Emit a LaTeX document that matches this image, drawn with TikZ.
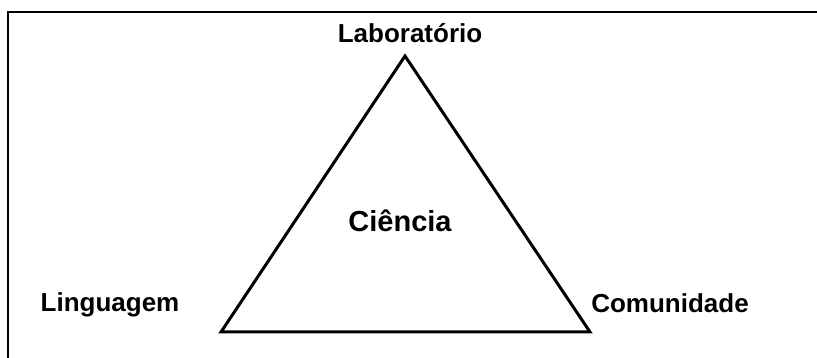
\documentclass[tikz,border=0pt]{standalone}
\usepackage{fontspec}
\setmainfont{Liberation Sans}
\usetikzlibrary{positioning,calc}

\tikzset{
  corner/.style={font=\fontsize{26}{30}\selectfont\bfseries, anchor=base, inner sep=0pt},
  centre/.style={font=\fontsize{29}{34}\selectfont\bfseries, anchor=base, inner sep=0pt}
}

\begin{document}
\begin{tikzpicture}[x=1pt,y=1pt,line width=3pt]

      \useasboundingbox (0,0) rectangle (817,358);

      % frame
      \coordinate (fb) at (8,0);
      \coordinate (fc) at (8,346);
      \coordinate (fr) at (817,346);
      \draw[line width=2pt] (fb) -- (fc) -- (fr);

      \coordinate (lab) at (405,302);
      \coordinate (lin) at (221, 26);
      \coordinate (com) at (590, 26);

      \draw[line join=miter] (lab) -- (lin) -- (com) -- cycle;

      \node[corner] (tlab) at (410,315) {Laboratório};
      \node[corner] (tlin) at (110, 46) {Linguagem};
      \node[corner] (tcom) at (670, 45) {Comunidade};
      \node[centre] (tcie) at (400,126) {Ciência};

    \end{tikzpicture}
\end{document}
